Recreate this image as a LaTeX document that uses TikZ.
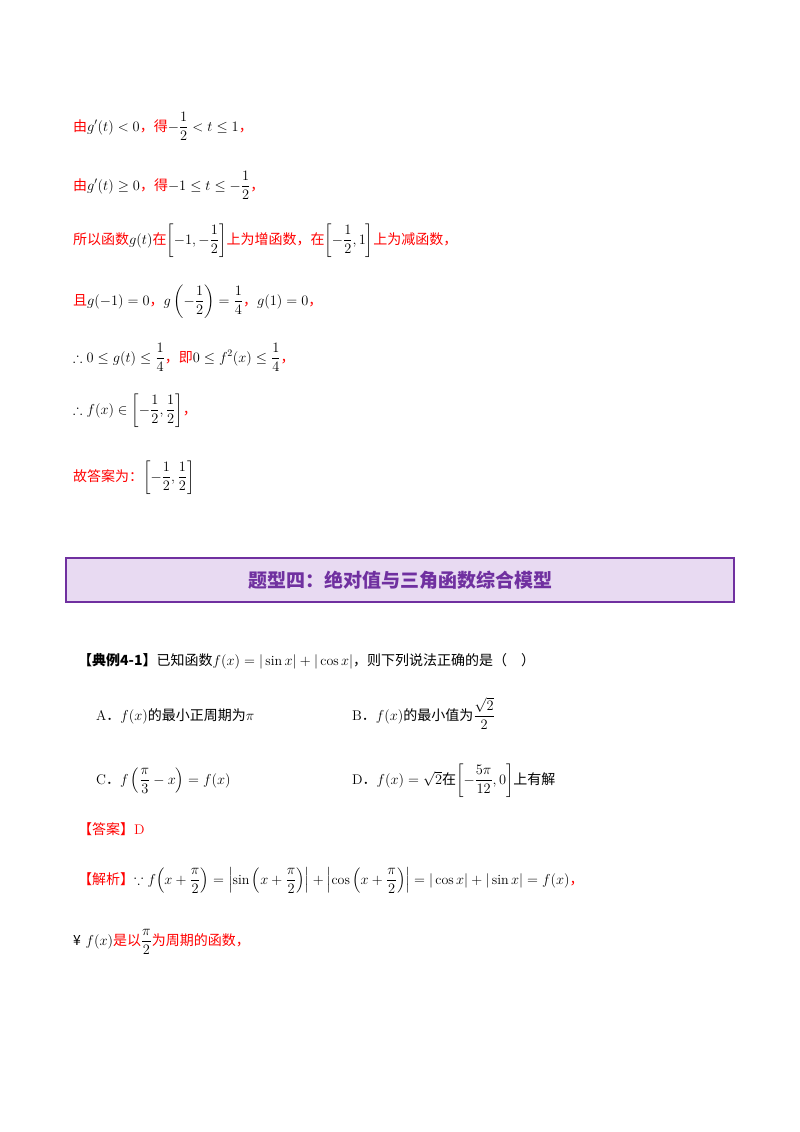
\documentclass[tikz,border=0pt]{standalone}
\usepackage{amsmath,amssymb}
\usepackage{fontspec}
\newfontfamily\cjk{Noto Sans CJK SC}
\definecolor{rd}{HTML}{FF0000}
\definecolor{pp}{HTML}{7030A0}
\definecolor{lav}{HTML}{E8DAF2}
\newcommand{\R}[1]{{\color{rd}\cjk #1}}
\begin{document}
\begin{tikzpicture}[x=1pt,y=-1pt,
  ln/.style={anchor=base west,inner sep=0pt,font=\fontsize{14}{16}\selectfont}]
\useasboundingbox[fill=white] (0,0) rectangle (800,1132);
\node[ln] (l1) at (73,131) {\R{由}$g'(t)<0$\R{，得}$-\dfrac12<t\le1$\R{，}};
\node[ln] (l2) at (73,190) {\R{由}$g'(t)\ge0$\R{，得}$-1\le t\le-\dfrac12$\R{，}};
\node[ln] (l3) at (73,244) {\R{所以函数}$g(t)$\R{在}$\left[-1,-\dfrac12\right]$\R{上为增函数，在}$\left[-\dfrac12,1\right]$\R{上为减函数，}};
\node[ln] (l4) at (73,305) {\R{且}$g(-1)=0$\R{，}$g\left(-\dfrac12\right)=\dfrac14$\R{，}$g(1)=0$\R{，}};
\node[ln] (l5) at (73,362) {$\therefore 0\le g(t)\le\dfrac14$\R{，即}$0\le f^2(x)\le\dfrac14$\R{，}};
\node[ln] (l6) at (73,414) {$\therefore f(x)\in\left[-\dfrac12,\dfrac12\right]$\R{，}};
\node[ln] (l7) at (73,481) {\R{故答案为：}$\left[-\dfrac12,\dfrac12\right]$};
\node[draw=pp,line width=2pt,fill=lav,minimum width=668,minimum height=44,inner sep=0pt,
  font=\fontsize{19}{21}\selectfont\cjk\bfseries,text=pp] (hd) at (400,580) {题型四：绝对值与三角函数综合模型};
\node[ln] (ex) at (78,665) {{\cjk\bfseries 【典例4-1】}{\cjk 已知函数}$f(x)=|\sin x|+|\cos x|${\cjk ，则下列说法正确的是（\quad）}};
\node[ln] (oa) at (96,720) {A{\cjk ．}$f(x)${\cjk 的最小正周期为}$\pi$};
\node[ln] (ob) at (352,720) {B{\cjk ．}$f(x)${\cjk 的最小值为}$\dfrac{\sqrt2}{2}$};
\node[ln] (oc) at (96,784) {C{\cjk ．}$f\left(\dfrac{\pi}{3}-x\right)=f(x)$};
\node[ln] (od) at (352,784) {D{\cjk ．}$f(x)=\sqrt2${\cjk 在}$\left[-\dfrac{5\pi}{12},0\right]${\cjk 上有解}};
\node[ln] (an) at (78,834) {\R{【答案】}{\color{rd}D}};
\node[ln] (jx) at (78,884) {\R{【解析】}$\because f\!\left(x+\dfrac{\pi}{2}\right)=\left|\sin\left(x+\dfrac{\pi}{2}\right)\right|+\left|\cos\left(x+\dfrac{\pi}{2}\right)\right|=|\cos x|+|\sin x|=f(x)$\R{，}};
\node[ln] (ls) at (73,945) {{\cjk ¥} $f(x)$\R{是以}$\dfrac{\pi}{2}$\R{为周期的函数，}};
\end{tikzpicture}
\end{document}
